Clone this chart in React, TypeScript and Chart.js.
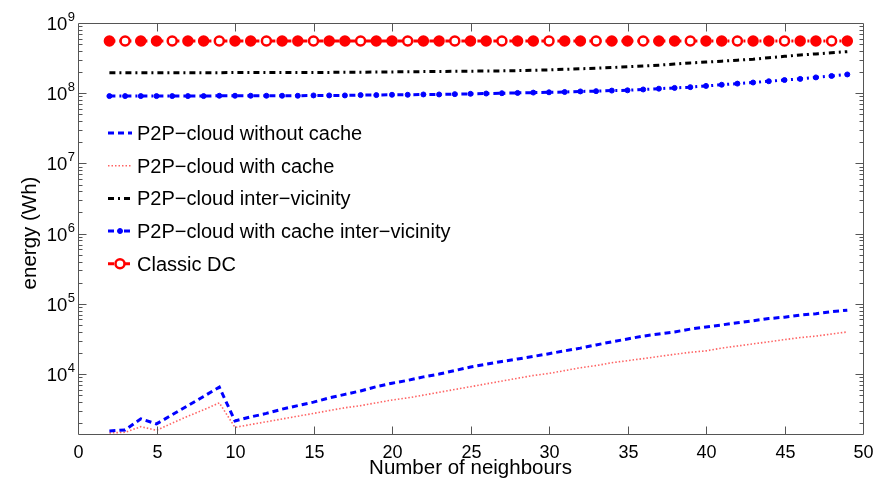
import React, { useEffect, useRef } from "react";
import { Chart, registerables } from "chart.js";

Chart.register(...registerables);

const neighbours = [2, 3, 4, 5, 6, 7, 8, 9, 10, 11, 12, 13, 14, 15, 16, 17, 18, 19, 20, 21, 22, 23, 24, 25, 26, 27, 28, 29, 30, 31, 32, 33, 34, 35, 36, 37, 38, 39, 40, 41, 42, 43, 44, 45, 46, 47, 48, 49];

const withoutCache = [1550, 1600, 2300, 1950, 2630, 3550, 4800, 6500, 2150, 2450, 2750, 3160, 3550, 3980, 4570, 5130, 5750, 6610, 7410, 8130, 9120, 10000, 11200, 12600, 13800, 15100, 16400, 17800, 19500, 21400, 23400, 26000, 28800, 31600, 34700, 37200, 39800, 43700, 46800, 50100, 53700, 57500, 61700, 64600, 69200, 72400, 77600, 81300];

const withCache = [1450, 1480, 1780, 1580, 2000, 2510, 3090, 3890, 1740, 1910, 2090, 2290, 2510, 2750, 3020, 3310, 3550, 3890, 4270, 4570, 5010, 5500, 6030, 6610, 7240, 7940, 8710, 9550, 10200, 11200, 12300, 13200, 14500, 15500, 16600, 17800, 19100, 20400, 21400, 23400, 25100, 26900, 28800, 30900, 33100, 34700, 37200, 39800];

const interVicinity = [1.95e8, 1.95e8, 1.95e8, 1.95e8, 1.96e8, 1.96e8, 1.96e8, 1.96e8, 1.97e8, 1.97e8, 1.97e8, 1.98e8, 1.98e8, 1.98e8, 1.98e8, 1.99e8, 1.99e8, 2.0e8, 2.01e8, 2.02e8, 2.03e8, 2.04e8, 2.05e8, 2.06e8, 2.07e8, 2.08e8, 2.1e8, 2.12e8, 2.15e8, 2.19e8, 2.23e8, 2.27e8, 2.32e8, 2.38e8, 2.44e8, 2.51e8, 2.6e8, 2.7e8, 2.78e8, 2.86e8, 2.95e8, 3.05e8, 3.2e8, 3.35e8, 3.5e8, 3.63e8, 3.77e8, 3.91e8];

const cacheInterVicinity = [0.91e8, 0.91e8, 0.91e8, 0.91e8, 0.91e8, 0.91e8, 0.91e8, 0.92e8, 0.92e8, 0.92e8, 0.92e8, 0.92e8, 0.92e8, 0.93e8, 0.93e8, 0.93e8, 0.94e8, 0.94e8, 0.95e8, 0.95e8, 0.96e8, 0.96e8, 0.97e8, 0.98e8, 0.99e8, 1.0e8, 1.01e8, 1.02e8, 1.03e8, 1.04e8, 1.06e8, 1.07e8, 1.09e8, 1.1e8, 1.13e8, 1.16e8, 1.19e8, 1.22e8, 1.27e8, 1.32e8, 1.37e8, 1.42e8, 1.48e8, 1.54e8, 1.6e8, 1.68e8, 1.76e8, 1.85e8];

const classicDC = [5.55e8, 5.55e8, 5.55e8, 5.55e8, 5.55e8, 5.55e8, 5.55e8, 5.55e8, 5.55e8, 5.55e8, 5.55e8, 5.55e8, 5.55e8, 5.55e8, 5.55e8, 5.55e8, 5.55e8, 5.55e8, 5.55e8, 5.55e8, 5.55e8, 5.55e8, 5.55e8, 5.55e8, 5.55e8, 5.55e8, 5.55e8, 5.55e8, 5.55e8, 5.55e8, 5.55e8, 5.55e8, 5.55e8, 5.55e8, 5.55e8, 5.55e8, 5.55e8, 5.55e8, 5.55e8, 5.55e8, 5.55e8, 5.55e8, 5.55e8, 5.55e8, 5.55e8, 5.55e8, 5.55e8, 5.55e8];

const seriesNames = [
  "P2P\u2212cloud without cache",
  "P2P\u2212cloud with cache",
  "P2P\u2212cloud inter\u2212vicinity",
  "P2P\u2212cloud with cache inter\u2212vicinity",
  "Classic DC",
];

const xTicks = [0, 5, 10, 15, 20, 25, 30, 35, 40, 45, 50];
const yExponents = [4, 5, 6, 7, 8, 9];
const xTitle = "Number of neighbours";
const yTitle = "energy (Wh)";

const Y_MIN = 1400;
const Y_MAX = 1e9;
const FONT = "'Liberation Sans', Arial, Helvetica, sans-serif";

const toPoints = (arr: number[]) => neighbours.map((n, i) => ({ x: n, y: arr[i] }));

const matlabPlugin = {
  id: "matlabAxes",
  afterDraw(chart: any) {
    const { ctx, chartArea: a, scales } = chart;
    const xs = scales.x;
    const ys = scales.y;
    ctx.save();
    const L = Math.round(a.left) + 0.5;
    const R = Math.round(a.right) + 0.5;
    const T = Math.round(a.top) + 0.5;
    const B = Math.round(a.bottom) + 0.5;
    ctx.strokeStyle = "#555";
    ctx.lineWidth = 1;
    ctx.setLineDash([]);
    ctx.beginPath();
    ctx.rect(L, T, R - L, B - T);
    ctx.stroke();

    ctx.fillStyle = "#000";
    ctx.font = `18px ${FONT}`;
    ctx.textAlign = "center";
    ctx.textBaseline = "alphabetic";
    xTicks.forEach((t) => {
      const px = Math.round(xs.getPixelForValue(t)) + 0.5;
      if (t !== xTicks[0] && t !== xTicks[xTicks.length - 1]) {
        ctx.beginPath();
        ctx.moveTo(px, B);
        ctx.lineTo(px, B - 8);
        ctx.moveTo(px, T);
        ctx.lineTo(px, T + 8);
        ctx.stroke();
      }
      ctx.fillText(String(t), px, B + 23);
    });

    const drawYTick = (val: number, len: number) => {
      if (val < Y_MIN || val > Y_MAX) return;
      const py = Math.round(ys.getPixelForValue(val)) + 0.5;
      if (py <= T + 0.1 || py >= B - 0.1) return;
      ctx.beginPath();
      ctx.moveTo(L, py);
      ctx.lineTo(L + len, py);
      ctx.moveTo(R, py);
      ctx.lineTo(R - len, py);
      ctx.stroke();
    };
    for (let e = yExponents[0] - 1; e <= yExponents[yExponents.length - 1]; e++) {
      drawYTick(Math.pow(10, e), 8);
      for (let m = 2; m <= 9; m++) drawYTick(m * Math.pow(10, e), 4);
    }

    yExponents.forEach((e) => {
      const py = ys.getPixelForValue(Math.pow(10, e));
      ctx.textAlign = "right";
      ctx.textBaseline = "alphabetic";
      ctx.font = `13px ${FONT}`;
      const expStr = String(e);
      const expW = ctx.measureText(expStr).width;
      const right = a.left - 3;
      ctx.fillText(expStr, right, py - 2);
      ctx.font = `18.5px ${FONT}`;
      ctx.fillText("10", right - expW - 0.5, py + 7);
    });

    ctx.font = `20.5px ${FONT}`;
    ctx.textAlign = "center";
    ctx.textBaseline = "alphabetic";
    ctx.fillText(xTitle, (a.left + a.right) / 2, 474);
    ctx.save();
    ctx.translate(36, 233);
    ctx.rotate(-Math.PI / 2);
    ctx.fillText(yTitle, 0, 0);
    ctx.restore();

    const baselines = [140, 172.7, 205.4, 238, 270.8];
    chart.data.datasets.forEach((ds: any, i: number) => {
      const yb = baselines[i];
      const yc = yb - 7;
      ctx.save();
      ctx.strokeStyle = ds.borderColor;
      ctx.lineWidth = ds.borderWidth;
      ctx.setLineDash(ds.borderDash || []);
      ctx.beginPath();
      ctx.moveTo(108, yc);
      ctx.lineTo(132, yc);
      ctx.stroke();
      if (ds.pointRadius > 0) {
        ctx.setLineDash([]);
        ctx.beginPath();
        ctx.arc(120, yc, ds.pointRadius, 0, Math.PI * 2);
        ctx.fillStyle = i === 4 ? "#fff" : ds.borderColor;
        ctx.fill();
        ctx.lineWidth = ds.pointBorderWidth || 1;
        ctx.strokeStyle = ds.borderColor;
        ctx.stroke();
      }
      ctx.restore();
      ctx.fillStyle = "#000";
      ctx.font = `20px ${FONT}`;
      ctx.textAlign = "left";
      ctx.textBaseline = "alphabetic";
      ctx.fillText(seriesNames[i], 137, yb);
    });
    ctx.restore();
  },
};

export default function App() {
  const ref = useRef<HTMLCanvasElement | null>(null);
  useEffect(() => {
    document.body.style.margin = "0";
    const canvas = ref.current;
    if (!canvas) return;
    const chart = new Chart(canvas, {
      type: "line",
      data: {
        datasets: [
          {
            label: seriesNames[0],
            data: toPoints(withoutCache),
            borderColor: "#0000ff",
            borderWidth: 3,
            borderDash: [6, 4],
            pointRadius: 0,
            fill: false,
          },
          {
            label: seriesNames[1],
            data: toPoints(withCache),
            borderColor: "rgba(255,60,60,0.8)",
            borderWidth: 1.6,
            borderDash: [1.5, 2],
            pointRadius: 0,
            fill: false,
          },
          {
            label: seriesNames[2],
            data: toPoints(interVicinity),
            borderColor: "#000000",
            borderWidth: 3,
            borderDash: [6, 4, 2, 4],
            pointRadius: 0,
            fill: false,
          },
          {
            label: seriesNames[3],
            data: toPoints(cacheInterVicinity),
            borderColor: "#0000ff",
            borderWidth: 3,
            borderDash: [6, 4, 2, 4],
            pointRadius: 2.5,
            pointBorderWidth: 1,
            pointBackgroundColor: "#0000ff",
            pointBorderColor: "#0000ff",
            fill: false,
          },
          {
            label: seriesNames[4],
            data: toPoints(classicDC),
            borderColor: "#ff0000",
            borderWidth: 3,
            borderDash: [6, 4, 2, 4],
            pointRadius: 4.5,
            pointBorderWidth: 2.5,
            pointBackgroundColor: (c: any) => (c.dataIndex % 3 === 1 ? "#ffffff" : "#ff0000"),
            pointBorderColor: "#ff0000",
            fill: false,
          },
        ],
      },
      options: {
        responsive: false,
        animation: false,
        devicePixelRatio: 1,
        layout: { padding: { left: 78, right: 24, top: 23, bottom: 46 } },
        plugins: { legend: { display: false }, tooltip: { enabled: false } },
        elements: { line: { tension: 0 } },
        scales: {
          x: { type: "linear", min: 0, max: 50, display: false },
          y: { type: "logarithmic", min: Y_MIN, max: Y_MAX, display: false },
        },
      },
      plugins: [matlabPlugin],
    } as any);
    return () => chart.destroy();
  }, []);
  return <canvas ref={ref} width={887} height={480} style={{ display: "block" }} />;
}
